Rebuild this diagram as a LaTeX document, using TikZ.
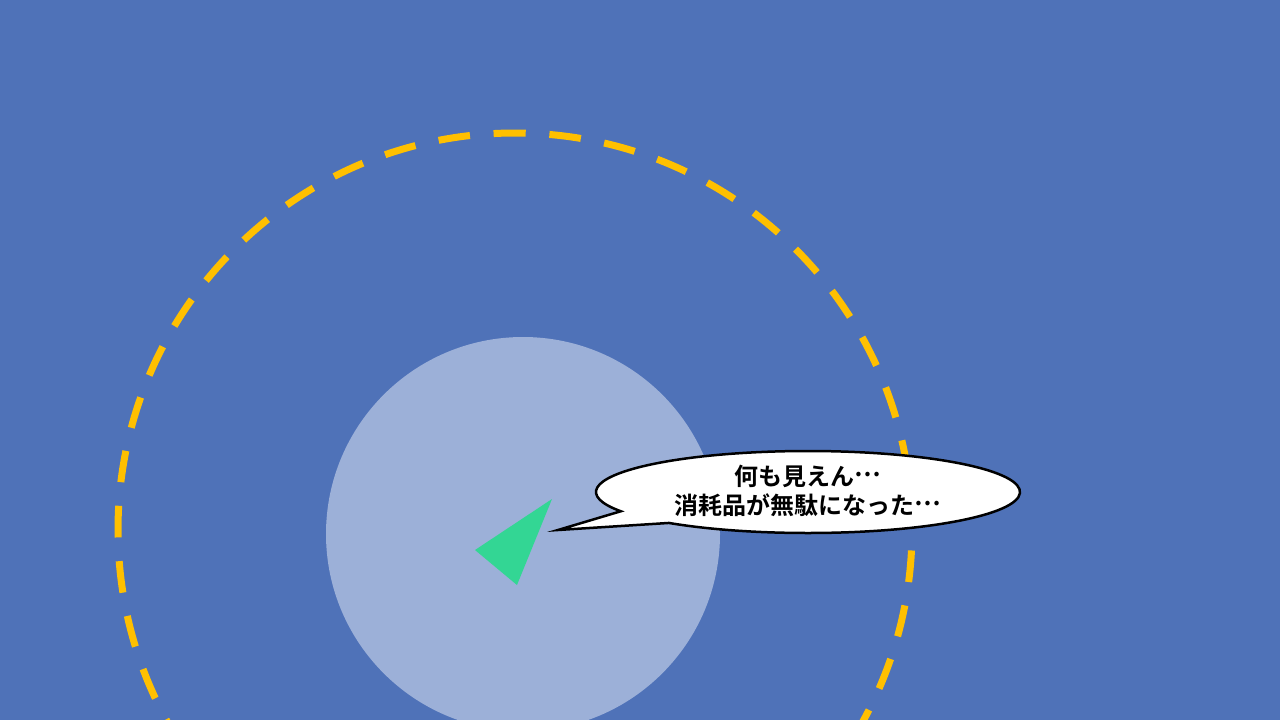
\documentclass[tikz,border=0pt]{standalone}
\usepackage{fontspec}
\usetikzlibrary{calc}
\newfontfamily\jpfont{Noto Sans CJK JP}[BoldFont={* Bold}]
\newcommand{\jdots}{\raisebox{0.36em}{…}}
\definecolor{bg}{HTML}{4F72B8}
\definecolor{lightc}{HTML}{9CB0D8}
\definecolor{gold}{HTML}{FFC000}
\definecolor{mint}{HTML}{33D694}
\tikzset{
  rangering/.style={draw=gold, line width=7pt, dash pattern=on 31.7pt off 23.73pt},
  viewdisc/.style={fill=lightc},
  ship/.style={fill=mint},
  bubble/.style={fill=white, draw=black, line width=2.5pt, line join=miter},
  say/.style={font=\jpfont\bfseries\fontsize{24}{29}\selectfont, align=center, text=black}
}
\begin{document}
\begin{tikzpicture}[x=1pt,y=-1pt]
  \fill[bg] (0,0) rectangle (1280,720);
  \useasboundingbox (0,0) rectangle (1280,720);
  \begin{scope}
    \clip (0,0) rectangle (1280,720);
    \fill[viewdisc] (523,534) circle[radius=197];
    \draw[rangering, dash phase=21pt] (515,133) arc[start angle=-90, end angle=270, radius=397];
  \end{scope}
  \coordinate (s1) at (552,499);
  \coordinate (s2) at (475,550);
  \coordinate (s3) at (517,585);
  \fill[ship] (s1) -- (s2) -- (s3) -- cycle;
  \coordinate (bc) at (808,492);
  \coordinate (tip) at (558,530);
  \draw[bubble] ($(bc)+(152:212 and 41)$) -- (tip) -- ($(bc)+(131:212 and 41)$)
     arc[start angle=131, end angle=-208, x radius=212, y radius=41] -- cycle;
  \node[say] (t) at (808,491) {何も見えん\jdots\\消耗品が無駄になった\jdots};
\end{tikzpicture}
\end{document}
